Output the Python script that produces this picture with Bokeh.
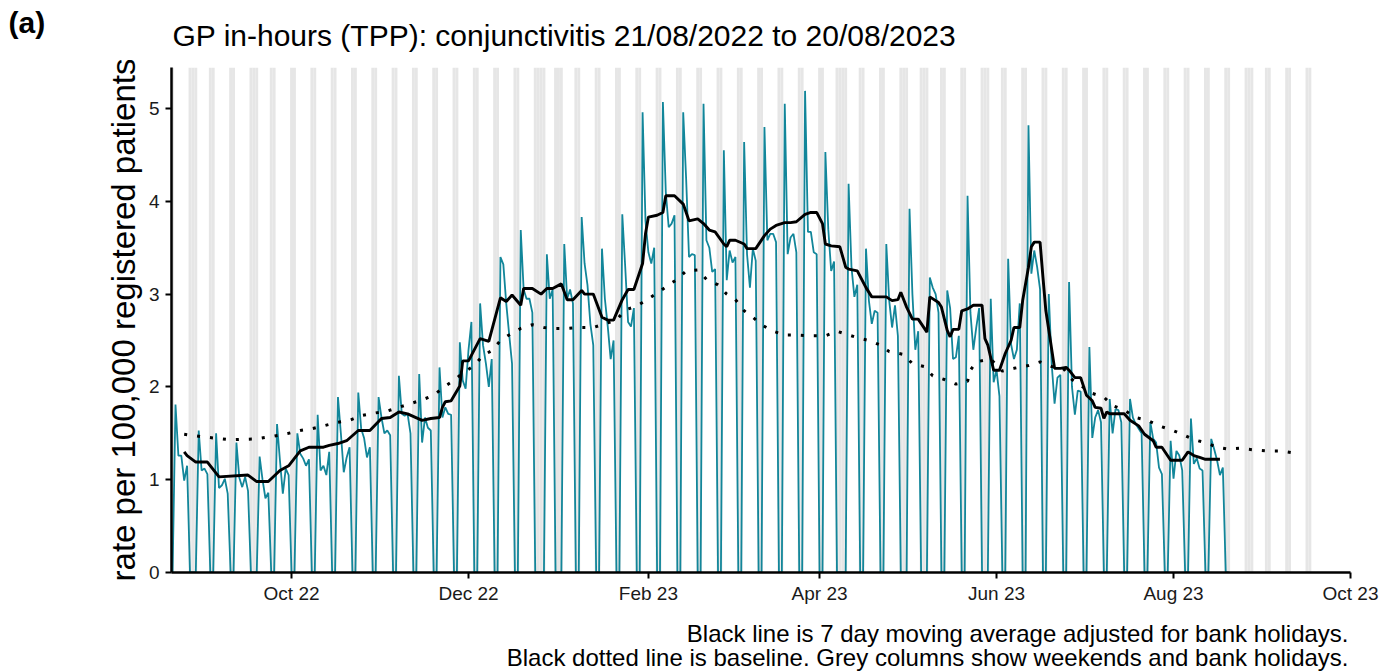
import pandas as pd
from bokeh.plotting import figure
from bokeh.layouts import column
from bokeh.models import Range1d, FixedTicker, DatetimeTickFormatter, Label, ColumnDataSource
from bokeh.embed import file_html
from bokeh.resources import INLINE

# ---------------- data ----------------
series_start = "2022-08-21"
series_end = "2023-08-20"
shade_end = "2023-09-17"

# Mon..Fri rates for each week starting Monday 22/08/2022 (weekends are 0)
weekday_rates = [
    [1.81, 1.26, 1.26, 0.99, 1.15],
    [0.00, 1.53, 1.10, 1.12, 1.06],
    [1.50, 0.91, 0.94, 1.01, 0.85],
    [1.40, 1.02, 0.92, 1.03, 0.88],
    [0.00, 1.25, 1.00, 0.80, 0.86],
    [1.60, 1.21, 0.85, 1.12, 1.05],
    [1.50, 1.28, 1.23, 1.15, 1.22],
    [1.70, 1.10, 1.15, 1.05, 1.30],
    [1.89, 1.50, 1.08, 1.24, 1.35],
    [1.94, 1.55, 1.45, 1.24, 1.35],
    [1.89, 1.67, 1.50, 1.53, 1.48],
    [2.12, 1.71, 1.69, 1.71, 1.50],
    [2.14, 1.40, 1.67, 1.56, 1.53],
    [2.21, 1.67, 1.78, 1.71, 1.70],
    [2.48, 2.07, 1.98, 2.40, 2.70],
    [2.90, 2.45, 2.25, 2.00, 2.30],
    [3.40, 3.32, 2.90, 2.57, 2.25],
    [3.69, 3.05, 2.95, 2.95, 2.80],
    [0.00, 0.00, 3.43, 2.95, 3.05],
    [0.00, 3.54, 2.95, 3.05, 2.90],
    [3.83, 3.33, 3.10, 2.68, 2.45],
    [3.49, 2.95, 2.65, 2.30, 2.50],
    [3.86, 3.30, 2.70, 2.65, 2.85],
    [4.96, 3.79, 3.45, 3.33, 3.50],
    [5.07, 4.10, 3.72, 3.76, 3.85],
    [4.96, 4.25, 3.40, 3.43, 3.42],
    [5.05, 3.58, 3.50, 3.24, 3.27],
    [4.55, 3.15, 3.47, 3.34, 3.40],
    [4.64, 3.43, 3.07, 3.49, 3.36],
    [4.80, 3.58, 3.65, 3.65, 3.56],
    [5.05, 3.43, 3.61, 3.65, 3.45],
    [5.19, 3.67, 3.67, 3.45, 3.43],
    [4.53, 3.70, 3.25, 3.35, 0.00],
    [0.00, 4.19, 3.29, 2.97, 3.10],
    [3.49, 2.93, 2.68, 2.82, 2.80],
    [3.54, 2.93, 2.64, 2.88, 2.55],
    [0.00, 3.92, 3.00, 2.40, 2.60],
    [0.00, 3.18, 3.07, 3.00, 2.80],
    [3.04, 2.85, 2.30, 2.32, 2.55],
    [4.06, 2.80, 2.40, 2.64, 2.85],
    [0.00, 2.95, 2.05, 2.18, 1.90],
    [3.38, 2.46, 2.30, 2.40, 2.90],
    [4.82, 3.22, 3.47, 3.29, 3.05],
    [3.00, 2.25, 1.82, 2.10, 2.13],
    [3.13, 2.00, 1.70, 1.96, 1.95],
    [2.43, 1.45, 1.67, 1.75, 1.62],
    [1.87, 1.50, 1.76, 1.75, 1.62],
    [1.87, 1.67, 1.60, 1.55, 1.50],
    [1.62, 1.44, 1.40, 1.13, 1.06],
    [1.42, 1.01, 1.31, 1.26, 1.10],
    [1.66, 1.17, 1.23, 1.12, 1.10],
    [1.44, 1.33, 1.21, 1.05, 1.13],
]

bank_holidays = [
    "2022-08-29", "2022-09-19", "2022-12-26", "2022-12-27", "2023-01-02",
    "2023-04-07", "2023-04-10", "2023-05-01", "2023-05-08", "2023-05-29",
    "2023-08-28",
]

ma_dates = [
    "2022-08-25", "2022-08-26", "2022-08-29", "2022-09-02", "2022-09-06", "2022-09-16",
    "2022-09-19", "2022-09-23", "2022-09-27", "2022-09-30", "2022-10-04", "2022-10-07",
    "2022-10-12", "2022-10-14", "2022-10-17", "2022-10-20", "2022-10-24", "2022-10-28",
    "2022-11-01", "2022-11-04", "2022-11-07", "2022-11-10", "2022-11-15", "2022-11-18",
    "2022-11-21", "2022-11-22", "2022-11-23", "2022-11-25", "2022-11-28", "2022-11-29",
    "2022-12-01", "2022-12-05", "2022-12-08", "2022-12-09", "2022-12-12", "2022-12-14",
    "2022-12-16", "2022-12-19", "2022-12-20", "2022-12-23", "2022-12-26", "2022-12-28",
    "2022-12-30", "2023-01-02", "2023-01-04", "2023-01-06", "2023-01-09", "2023-01-10",
    "2023-01-13", "2023-01-16", "2023-01-18", "2023-01-20", "2023-01-23", "2023-01-25",
    "2023-01-27", "2023-01-30", "2023-01-31", "2023-02-01", "2023-02-04", "2023-02-06",
    "2023-02-07", "2023-02-10", "2023-02-13", "2023-02-15", "2023-02-18", "2023-02-20",
    "2023-02-22", "2023-02-24", "2023-02-27", "2023-02-28", "2023-03-01", "2023-03-03",
    "2023-03-06", "2023-03-07", "2023-03-10", "2023-03-13", "2023-03-15", "2023-03-17",
    "2023-03-20", "2023-03-22", "2023-03-24", "2023-03-27", "2023-03-29", "2023-03-31",
    "2023-04-02", "2023-04-03", "2023-04-05", "2023-04-08", "2023-04-10", "2023-04-11",
    "2023-04-14", "2023-04-17", "2023-04-19", "2023-04-24", "2023-04-26", "2023-04-28",
    "2023-04-29", "2023-05-01", "2023-05-03", "2023-05-05", "2023-05-08", "2023-05-09",
    "2023-05-12", "2023-05-13", "2023-05-15", "2023-05-16", "2023-05-17", "2023-05-19",
    "2023-05-20", "2023-05-22", "2023-05-24", "2023-05-27", "2023-05-28", "2023-05-29",
    "2023-05-31", "2023-06-02", "2023-06-04", "2023-06-06", "2023-06-07", "2023-06-09",
    "2023-06-10", "2023-06-12", "2023-06-13", "2023-06-14", "2023-06-16", "2023-06-17",
    "2023-06-18", "2023-06-21", "2023-06-23", "2023-06-25", "2023-06-26", "2023-06-28",
    "2023-06-30", "2023-07-02", "2023-07-04", "2023-07-05", "2023-07-07", "2023-07-08",
    "2023-07-09", "2023-07-10", "2023-07-15", "2023-07-17", "2023-07-20", "2023-07-22",
    "2023-07-25", "2023-07-26", "2023-07-28", "2023-07-31", "2023-08-04", "2023-08-06",
    "2023-08-08", "2023-08-10", "2023-08-12", "2023-08-17",
]
ma_values = [
    1.30, 1.26, 1.19, 1.19, 1.03, 1.05,
    0.98, 0.98, 1.10, 1.15, 1.31, 1.35,
    1.35, 1.37, 1.39, 1.42, 1.53, 1.53,
    1.66, 1.67, 1.73, 1.71, 1.64, 1.66,
    1.67, 1.78, 1.84, 1.85, 2.01, 2.28,
    2.28, 2.52, 2.49, 2.61, 2.96, 2.92,
    2.99, 2.88, 3.06, 3.06, 3.00, 3.06,
    3.06, 3.11, 2.94, 2.94, 3.04, 3.00,
    3.00, 2.75, 2.72, 2.72, 2.94, 3.05,
    3.05, 3.33, 3.65, 3.83, 3.85, 3.88,
    4.06, 4.06, 3.97, 3.79, 3.81, 3.76,
    3.69, 3.67, 3.54, 3.51, 3.58, 3.58,
    3.54, 3.49, 3.49, 3.63, 3.70, 3.74,
    3.77, 3.77, 3.78, 3.86, 3.88, 3.88,
    3.76, 3.54, 3.52, 3.51, 3.29, 3.27,
    3.25, 3.07, 2.97, 2.97, 2.93, 2.94,
    3.02, 2.86, 2.73, 2.73, 2.59, 2.97,
    2.91, 2.86, 2.61, 2.54, 2.62, 2.62,
    2.82, 2.84, 2.88, 2.88, 2.52, 2.45,
    2.18, 2.18, 2.36, 2.50, 2.64, 2.64,
    2.93, 3.29, 3.51, 3.56, 3.56, 3.18,
    2.82, 2.20, 2.20, 2.21, 2.18, 2.10,
    2.10, 1.91, 1.85, 1.78, 1.77, 1.66,
    1.73, 1.71, 1.71, 1.64, 1.58, 1.49,
    1.42, 1.35, 1.35, 1.21, 1.21, 1.30,
    1.26, 1.24, 1.22, 1.22,
]

baseline_dates = [
    "2022-08-25", "2022-09-01", "2022-09-10", "2022-09-19", "2022-09-25", "2022-09-30",
    "2022-10-04", "2022-10-08", "2022-10-12", "2022-10-17", "2022-10-21", "2022-10-25",
    "2022-10-30", "2022-11-03", "2022-11-07", "2022-11-11", "2022-11-15", "2022-11-19",
    "2022-11-23", "2022-11-26", "2022-11-29", "2022-12-03", "2022-12-06", "2022-12-09",
    "2022-12-12", "2022-12-15", "2022-12-19", "2022-12-23", "2022-12-27", "2022-12-31",
    "2023-01-04", "2023-01-08", "2023-01-13", "2023-01-17", "2023-01-21", "2023-01-24",
    "2023-01-28", "2023-02-01", "2023-02-04", "2023-02-08", "2023-02-11", "2023-02-14",
    "2023-02-18", "2023-02-21", "2023-02-25", "2023-02-28", "2023-03-03", "2023-03-06",
    "2023-03-09", "2023-03-12", "2023-03-16", "2023-03-20", "2023-03-24", "2023-03-29",
    "2023-04-03", "2023-04-07", "2023-04-11", "2023-04-14", "2023-04-18", "2023-04-22",
    "2023-04-25", "2023-04-30", "2023-05-03", "2023-05-07", "2023-05-10", "2023-05-14",
    "2023-05-18", "2023-05-22", "2023-05-23", "2023-05-25", "2023-05-30", "2023-06-03",
    "2023-06-07", "2023-06-12", "2023-06-16", "2023-06-20", "2023-06-24", "2023-06-27",
    "2023-07-04", "2023-07-08", "2023-07-11", "2023-07-15", "2023-07-19", "2023-07-23",
    "2023-07-27", "2023-07-31", "2023-08-04", "2023-08-08", "2023-08-12", "2023-08-16",
    "2023-08-20", "2023-08-24", "2023-08-29", "2023-09-02", "2023-09-07", "2023-09-11",
]
baseline_values = [
    1.49, 1.46, 1.43, 1.44, 1.47, 1.50,
    1.53, 1.55, 1.58, 1.62, 1.64, 1.69,
    1.72, 1.74, 1.78, 1.82, 1.86, 1.91,
    2.01, 2.07, 2.15, 2.23, 2.34, 2.39,
    2.50, 2.56, 2.63, 2.67, 2.64, 2.63,
    2.63, 2.64, 2.64, 2.68, 2.72, 2.83,
    2.87, 2.95, 3.01, 3.10, 3.16, 3.25,
    3.26, 3.16, 3.10, 3.00, 2.94, 2.82,
    2.75, 2.67, 2.60, 2.56, 2.56, 2.55,
    2.55, 2.60, 2.56, 2.53, 2.50, 2.45,
    2.38, 2.35, 2.25, 2.22, 2.12, 2.08,
    2.03, 2.06, 2.18, 2.27, 2.30, 2.17,
    2.20, 2.23, 2.27, 2.22, 2.20, 2.08,
    1.93, 1.89, 1.80, 1.75, 1.67, 1.64,
    1.58, 1.54, 1.49, 1.43, 1.40, 1.35,
    1.33, 1.34, 1.32, 1.31, 1.31, 1.29,
]

x_tick_dates = ["2022-10-01", "2022-12-01", "2023-02-01", "2023-04-01",
                "2023-06-01", "2023-08-01", "2023-10-01"]
y_ticks = [0, 1, 2, 3, 4, 5]

title_text = "GP in-hours (TPP): conjunctivitis 21/08/2022 to 20/08/2023"
panel_tag = "(a)"
y_label = "rate per 100,000 registered patients"
note_1 = "Black line is 7 day moving average adjusted for bank holidays."
note_2 = "Black dotted line is baseline. Grey columns show weekends and bank holidays."

# ---------------- build sources ----------------
days = pd.date_range(series_start, series_end, freq="D")
flat = [v for wk in weekday_rates for v in wk]
it = iter(flat)
rates = [0.0 if d.weekday() >= 5 else next(it) for d in days]
daily = ColumnDataSource(dict(date=days, rate=rates))

bh = set(pd.to_datetime(bank_holidays))
shade_days = [d for d in pd.date_range(series_start, shade_end, freq="D")
              if d.weekday() >= 5 or d in bh]
shade = ColumnDataSource(dict(date=shade_days))

ma = ColumnDataSource(dict(date=pd.to_datetime(ma_dates), value=ma_values))
base = ColumnDataSource(dict(date=pd.to_datetime(baseline_dates), value=baseline_values))

FONT = "Liberation Sans"
DAY_MS = 86400000
W = 1391
HEAD_H = 60
FOOT_H = 63


def text_strip(height):
    f = figure(width=W, height=height, x_range=Range1d(0, W), y_range=Range1d(0, height),
               output_backend="svg", toolbar_location=None,
               x_axis_location=None, y_axis_location=None,
               min_border_left=0, min_border_right=0, min_border_top=0, min_border_bottom=0)
    f.xgrid.visible = False
    f.ygrid.visible = False
    f.outline_line_color = None
    f.background_fill_color = "white"
    f.border_fill_color = "white"
    return f


# header strip: panel tag and title
head = text_strip(HEAD_H)
head.add_layout(Label(x=8, y=HEAD_H - 22, text=panel_tag, text_align="left",
                      text_baseline="middle", text_font=FONT, text_font_size="30px",
                      text_font_style="bold", text_color="black"))
head.add_layout(Label(x=172, y=HEAD_H - 35, text=title_text, text_align="left",
                      text_baseline="middle", text_font=FONT, text_font_size="30px",
                      text_color="black"))

# main chart
p = figure(width=W, height=548, x_axis_type="datetime",
           x_range=Range1d(pd.Timestamp("2022-08-20 15:00"), pd.Timestamp("2023-10-01 00:00")),
           y_range=Range1d(0, 5.442),
           output_backend="svg", toolbar_location=None,
           min_border_left=171, min_border_right=41, min_border_top=7, min_border_bottom=36)
p.background_fill_color = "white"
p.border_fill_color = "white"
p.outline_line_color = None
p.xgrid.visible = False
p.ygrid.visible = False

p.vbar(x="date", top=6, bottom=0, width=DAY_MS, source=shade,
       fill_color="#E6E6E6", line_color=None)
p.line(x="date", y="rate", source=daily, line_color="#12869A", line_width=1.8)
p.line(x="date", y="value", source=base, line_color="black", line_width=3,
       line_dash="3 10")
p.line(x="date", y="value", source=ma, line_color="black", line_width=2.9)

p.xaxis.ticker = FixedTicker(ticks=[pd.Timestamp(d).value / 1e6 for d in x_tick_dates])
fmt = "%b %y"
p.xaxis.formatter = DatetimeTickFormatter(milliseconds=fmt, seconds=fmt, minsec=fmt, minutes=fmt,
                                          hourmin=fmt, hours=fmt, days=fmt, months=fmt, years=fmt)
p.yaxis.ticker = FixedTicker(ticks=y_ticks)
for ax in (p.xaxis, p.yaxis):
    ax.axis_line_color = "black"
    ax.axis_line_width = 2.5
    ax.major_tick_line_color = "black"
    ax.major_tick_line_width = 2
    ax.major_tick_out = 6
    ax.major_tick_in = 0
    ax.minor_tick_out = 0
    ax.minor_tick_in = 0
    ax.major_label_text_font = FONT
    ax.major_label_text_font_size = "19px"
    ax.major_label_text_color = "#1a1a1a"
p.xaxis.major_label_standoff = 4
p.yaxis.major_label_standoff = 6
p.yaxis.axis_label = y_label
p.yaxis.axis_label_text_font = FONT
p.yaxis.axis_label_text_font_size = "33px"
p.yaxis.axis_label_text_font_style = "normal"
p.yaxis.axis_label_text_color = "black"
p.yaxis.axis_label_standoff = 4

# footer strip: notes
foot = text_strip(FOOT_H)
foot.add_layout(Label(x=1348, y=FOOT_H - 25, text=note_1, text_align="right",
                      text_baseline="middle", text_font=FONT, text_font_size="24px",
                      text_color="black"))
foot.add_layout(Label(x=1348, y=FOOT_H - 49, text=note_2, text_align="right",
                      text_baseline="middle", text_font=FONT, text_font_size="24px",
                      text_color="black"))

# strips are wrapped in their own columns so their frames are not aligned with the chart's
layout = column(column(head, spacing=0), p, column(foot, spacing=0), spacing=0)
open("out.html", "w").write(file_html(layout, INLINE))
